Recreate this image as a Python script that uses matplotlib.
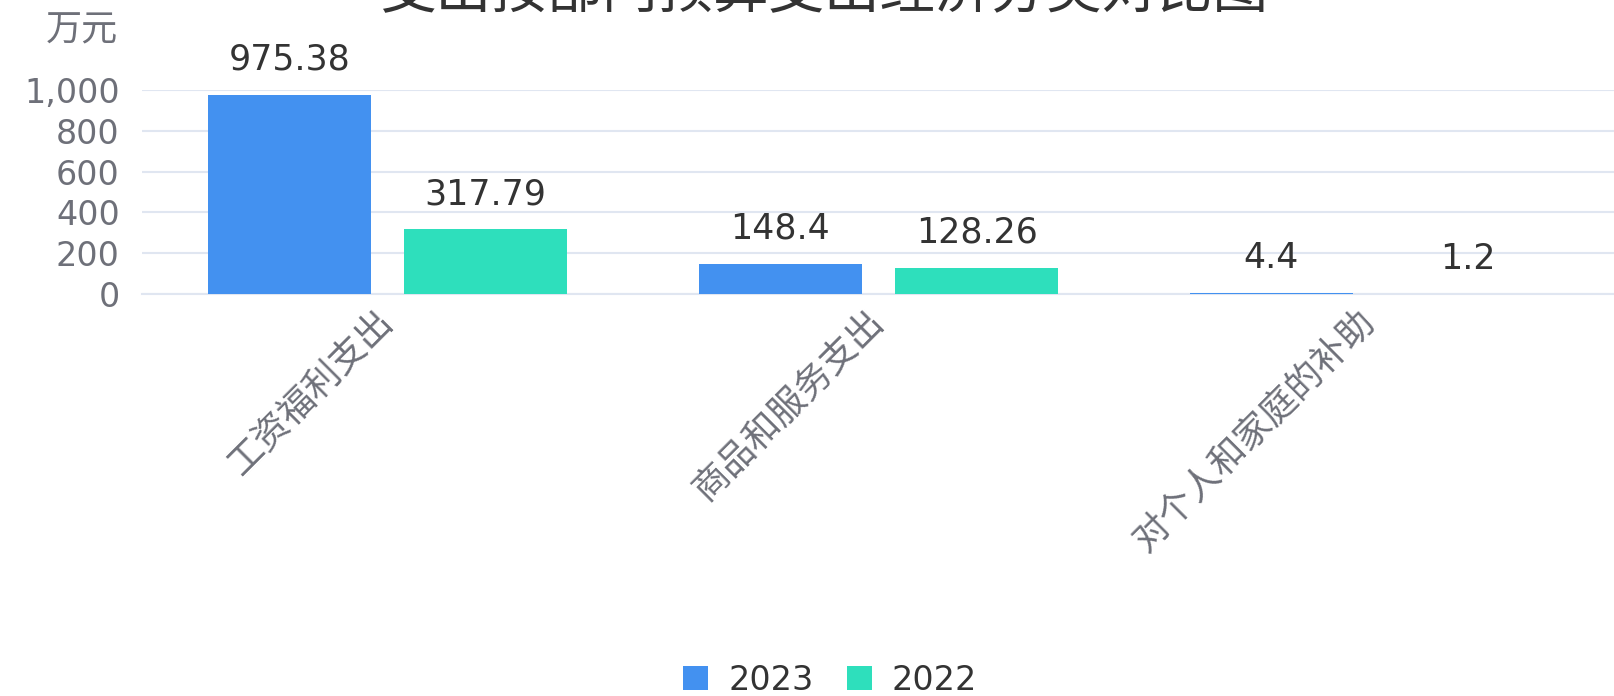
import matplotlib
matplotlib.use("Agg")
import matplotlib.pyplot as plt
import numpy as np

plt.rcParams['font.family'] = ['DejaVu Sans', 'Noto Sans CJK SC']

# data
categories = ['工资福利支出', '商品和服务支出', '对个人和家庭的补助']
values_2023 = [975.38, 148.4, 4.4]
values_2022 = [317.79, 128.26, 1.2]
labels_2023 = ['975.38', '148.4', '4.4']
labels_2022 = ['317.79', '128.26', '1.2']
series_names = ['2023', '2022']
yticks = [0, 200, 400, 600, 800, 1000]
ytick_labels = ['0', '200', '400', '600', '800', '1,000']
title = '支出按部门预算支出经济分类对比图'
unit = '万元'

c2023 = '#4391F0'
c2022 = '#2EDFBC'
grid_c = '#E0E6F1'
text_c = '#6E7079'
cjk = ['Noto Sans CJK SC', 'DejaVu Sans']

W, H = 1615, 696
fig = plt.figure(figsize=(W / 100, H / 100), dpi=100)
# axes box in pixels: left 142, right 1615, bottom at y=294 (from top), top at y=90
ax = fig.add_axes([142 / W, 1 - 294 / H, (W - 142) / W, (294 - 90) / H])

x = np.arange(len(categories))
bw = 0.333
b1 = ax.bar(x - 0.2, values_2023, width=bw, color=c2023, label=series_names[0], zorder=3)
b2 = ax.bar(x + 0.2, values_2022, width=bw, color=c2022, label=series_names[1], zorder=3)

for bars, labs in ((b1, labels_2023), (b2, labels_2022)):
    for rect, lab in zip(bars, labs):
        ax.annotate(lab, (rect.get_x() + rect.get_width() / 2, rect.get_height()),
                    xytext=(0, 13), textcoords='offset points', ha='center', va='bottom',
                    fontsize=25, color='#333333', clip_on=False)

ax.set_xlim(-0.5, len(categories) - 0.5)
ax.set_ylim(0, 1000)
ax.set_yticks(yticks)
ax.set_yticklabels(ytick_labels)
ax.set_xticks(x)
ax.set_xticklabels(categories, rotation=45, ha='right', va='center',
                   rotation_mode='anchor', family=cjk, fontsize=26)
ax.tick_params(axis='both', length=0, labelcolor=text_c)
ax.tick_params(axis='y', labelsize=24, pad=16)
ax.tick_params(axis='x', pad=16)
ax.grid(axis='y', color=grid_c, linewidth=1.5, zorder=0)
for s in ['top', 'right', 'left']:
    ax.spines[s].set_visible(False)
ax.spines['bottom'].set_color(grid_c)
ax.spines['bottom'].set_linewidth(1.5)

fig.text(118 / W, 1 - 30 / H, unit, ha='right', va='center', fontsize=26,
         color=text_c, family=cjk)
fig.text(824 / W, 1 - 21 / H, title, ha='center', va='bottom', fontsize=40,
         color='#333333', family=cjk)

fig.legend(loc='center', bbox_to_anchor=(830 / W, 1 - 680 / H), ncol=2, frameon=False,
           fontsize=24, handlelength=0.75, handleheight=0.75, handletextpad=0.6,
           columnspacing=1.0, labelcolor='#333333')

fig.savefig('out.png', dpi=100)
